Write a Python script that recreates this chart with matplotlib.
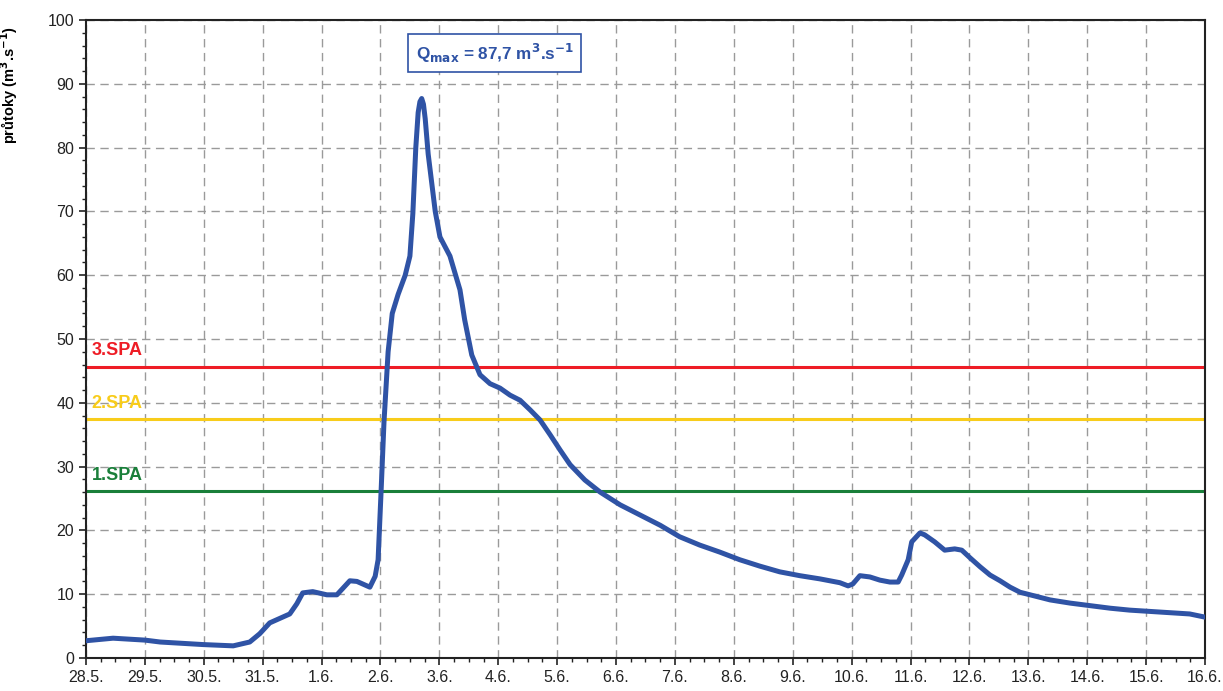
import matplotlib
matplotlib.use("Agg")
import matplotlib.pyplot as plt
from matplotlib.ticker import MultipleLocator

plt.rcParams['font.family'] = ['Liberation Sans', 'DejaVu Sans']
plt.rcParams['mathtext.default'] = 'bf'

# day labels (28.5. .. 16.6.)
days = ['28.5.', '29.5.', '30.5.', '31.5.', '1.6.', '2.6.', '3.6.', '4.6.',
        '5.6.', '6.6.', '7.6.', '8.6.', '9.6.', '10.6.', '11.6.', '12.6.',
        '13.6.', '14.6.', '15.6.', '16.6.']

# time in days from 28.5. 0:00, discharge in m3/s
t = [0.00, 0.46, 1.00, 1.26, 1.99, 2.50, 2.78, 2.95, 3.12, 3.29, 3.46, 3.58,
     3.68, 3.85, 4.09, 4.26, 4.48, 4.60, 4.82, 4.91, 4.96, 5.01, 5.06, 5.13,
     5.20, 5.30, 5.42, 5.50, 5.55, 5.60, 5.64, 5.67, 5.70, 5.73, 5.76, 5.81,
     5.93, 6.01, 6.18, 6.35, 6.43, 6.55, 6.69, 6.86, 7.03, 7.20, 7.37, 7.54,
     7.71, 7.88, 8.05, 8.22, 8.47, 8.73, 9.07, 9.41, 9.75, 10.08, 10.42,
     10.76, 11.10, 11.44, 11.78, 12.12, 12.46, 12.80, 12.94, 13.02, 13.14,
     13.31, 13.48, 13.65, 13.79, 13.85, 13.96, 14.02, 14.16, 14.24, 14.41,
     14.58, 14.75, 14.87, 15.01, 15.18, 15.35, 15.52, 15.69, 15.86, 16.03,
     16.37, 16.71, 17.05, 17.39, 17.72, 18.06, 18.40, 18.74, 19.00]
q = [2.7, 3.1, 2.8, 2.5, 2.1, 1.9, 2.5, 3.8, 5.5, 6.2, 6.9, 8.5,
     10.2, 10.4, 9.9, 9.9, 12.1, 12.0, 11.1, 12.8, 15.4, 26.0, 37.0, 48.0,
     54.0, 57.0, 60.0, 63.0, 69.7, 80.0, 85.5, 87.2, 87.7, 86.8, 84.5, 79.0,
     70.0, 66.0, 63.0, 57.7, 53.0, 47.5, 44.4, 43.0, 42.3, 41.2, 40.4, 38.9,
     37.3, 35.0, 32.6, 30.3, 27.9, 26.0, 24.0, 22.4, 20.8, 19.0, 17.7,
     16.6, 15.4, 14.4, 13.5, 12.9, 12.4, 11.8, 11.3, 11.6, 12.9,
     12.7, 12.2, 11.9, 11.9, 13.0, 15.4, 18.2, 19.6, 19.3, 18.2,
     16.9, 17.1, 16.9, 15.7, 14.3, 13.0, 12.1, 11.1, 10.3, 9.9,
     9.1, 8.6, 8.2, 7.8, 7.5, 7.3, 7.1, 6.9, 6.4]

# flood activity levels
spa_names = ['1.SPA', '2.SPA', '3.SPA']
spa_values = [26.1, 37.4, 45.6]
spa_colors = ['#1a7f3a', '#f8cc1b', '#ee1c25']

q_max = 87.7

fig = plt.figure(figsize=(12.23, 6.91), dpi=100)
ax = fig.add_axes([0.0703, 0.0478, 0.9150, 0.9232])

ax.grid(True, which='major', color='#9a9a9a', linestyle=(0, (6, 4)), linewidth=1.0)
ax.set_axisbelow(True)

for name, val, col in zip(spa_names, spa_values, spa_colors):
    ax.axhline(val, color=col, linewidth=2.2, zorder=2)
    ax.text(0.1, val + 1.2, name, color=col, fontsize=13, fontweight='bold',
            ha='left', va='bottom', zorder=3)

ax.plot(t, q, color='#2f53a5', linewidth=3.6, solid_joinstyle='round', zorder=4)

ax.text(6.94, 94.8, 'Q$_{max}$ = ' + f'{q_max:.1f}'.replace('.', ',') + ' m$^{3}$.s$^{-1}$',
        color='#2f53a5', fontsize=12.3, fontweight='bold', ha='center', va='center',
        bbox=dict(boxstyle='square,pad=0.45', facecolor='white', edgecolor='#2f53a5',
                  linewidth=1.2), zorder=5)

ax.set_xlim(0, 19)
ax.set_ylim(0, 100)
ax.set_xticks(range(len(days)))
ax.set_xticklabels(days)
ax.xaxis.set_minor_locator(MultipleLocator(0.25))
ax.yaxis.set_major_locator(MultipleLocator(10))
ax.yaxis.set_minor_locator(MultipleLocator(2))
ax.tick_params(which='major', direction='out', length=5, width=1.2, labelsize=11.5,
               colors='#222222')
ax.tick_params(which='minor', direction='out', length=3, width=1.0, colors='#222222')
for s in ax.spines.values():
    s.set_linewidth(1.5)
    s.set_color('#222222')

ax.set_ylabel('průtoky (m$^{3}$.s$^{-1}$)', fontsize=10.5, fontweight='bold')
ax.yaxis.set_label_coords(-0.059, 0.898)

fig.savefig('out.png', dpi=100)
